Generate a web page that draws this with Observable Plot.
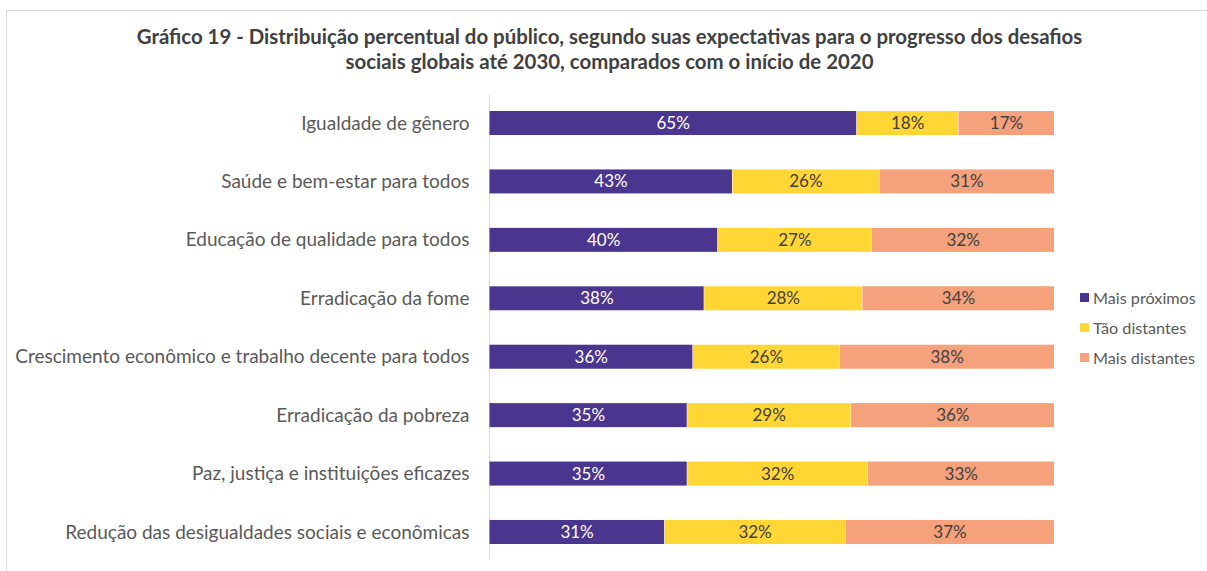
<!DOCTYPE html>
<html>
<head>
<meta charset="utf-8">
<script src="https://cdn.jsdelivr.net/npm/d3@7"></script>
<script src="https://cdn.jsdelivr.net/npm/@observablehq/plot@0.6"></script>
<style>
  html, body { margin: 0; padding: 0; background: #fff; }
  #wrap { position: relative; width: 1207px; height: 571px; overflow: hidden; font-family: Lato, sans-serif; }
  #frame { position: absolute; left: 6px; top: 10px; width: 1300px; height: 700px; border-top: 1px solid #d9d9d9; border-left: 1px solid #d9d9d9; }
  #title { position: relative; height: 90px; box-sizing: border-box; padding-top: 24px; text-align: center; font-weight: bold; font-size: 20.4px; line-height: 25px; color: #404040; padding-left: 12px; }
  #chart { position: relative; }
  #legend { position: absolute; left: 1080px; top: 282px; font-size: 16.2px; color: #595959; }
  #legend .item { height: 30px; display: flex; align-items: center; }
  #legend .sw { width: 9px; height: 9px; margin-right: 4px; flex: none; }
</style>
</head>
<body>
<div id="wrap">
  <div id="frame"></div>
  <div id="title">Gráfico 19 - Distribuição percentual do público, segundo suas expectativas para o progresso dos desafios<br>sociais globais até 2030, comparados com o início de 2020</div>
  <div id="chart"></div>
  <div id="legend"></div>
</div>
<script>
const categories = [
  "Igualdade de gênero",
  "Saúde e bem-estar para todos",
  "Educação de qualidade para todos",
  "Erradicação da fome",
  "Crescimento econômico e trabalho decente para todos",
  "Erradicação da pobreza",
  "Paz, justiça e instituições eficazes",
  "Redução das desigualdades sociais e econômicas"
];
const series = ["Mais próximos", "Tão distantes", "Mais distantes"];
const colors = ["#4b368f", "#ffd633", "#f4a17c"];
const maisProximos  = [65, 43, 40, 38, 36, 35, 35, 31];
const taoDistantes  = [18, 26, 27, 28, 26, 29, 32, 32];
const maisDistantes = [17, 31, 32, 34, 38, 36, 33, 37];

const seriesValues = [maisProximos, taoDistantes, maisDistantes];
const colorOf = Object.fromEntries(series.map((s, i) => [s, colors[i]]));
const data = [];
categories.forEach((c, ci) => {
  series.forEach((s, si) => data.push({cat: c, series: s, value: seriesValues[si][ci]}));
});

const stackOpts = (extra) => Plot.stackX({
  x: "value", y: "cat", z: "series", order: series, offset: "normalize", ...extra
});

const plot = Plot.plot({
  width: 1207,
  height: 481,
  marginLeft: 489,
  marginRight: 153,
  marginTop: 5,
  marginBottom: 11,
  style: {fontFamily: "Lato, sans-serif", background: "transparent"},
  x: {domain: [0, 1], axis: null},
  y: {domain: categories, paddingInner: 0.589, paddingOuter: 0.274, round: false, label: null},
  color: {type: "identity"},
  marks: [
    Plot.ruleX([0], {stroke: "#d9d9d9", strokeWidth: 1}),
    Plot.barX(data, stackOpts({fill: d => colorOf[d.series], inset: 0, insetLeft: 0.5})),
    Plot.text(data, stackOpts({
      text: d => d.value + "%",
      fill: d => d.series === series[0] ? "#ffffff" : "#404040",
      fontSize: 17
    })),
    Plot.axisY({tickSize: 0, tickPadding: 20, fontSize: 19, color: "#595959", label: null})
  ]
});
document.getElementById("chart").appendChild(plot);

const legend = document.getElementById("legend");
series.forEach((s, i) => {
  const it = document.createElement("div");
  it.className = "item";
  const sw = document.createElement("span");
  sw.className = "sw";
  sw.style.background = colors[i];
  const tx = document.createElement("span");
  tx.textContent = s;
  it.appendChild(sw); it.appendChild(tx);
  legend.appendChild(it);
});
</script>
</body>
</html>
